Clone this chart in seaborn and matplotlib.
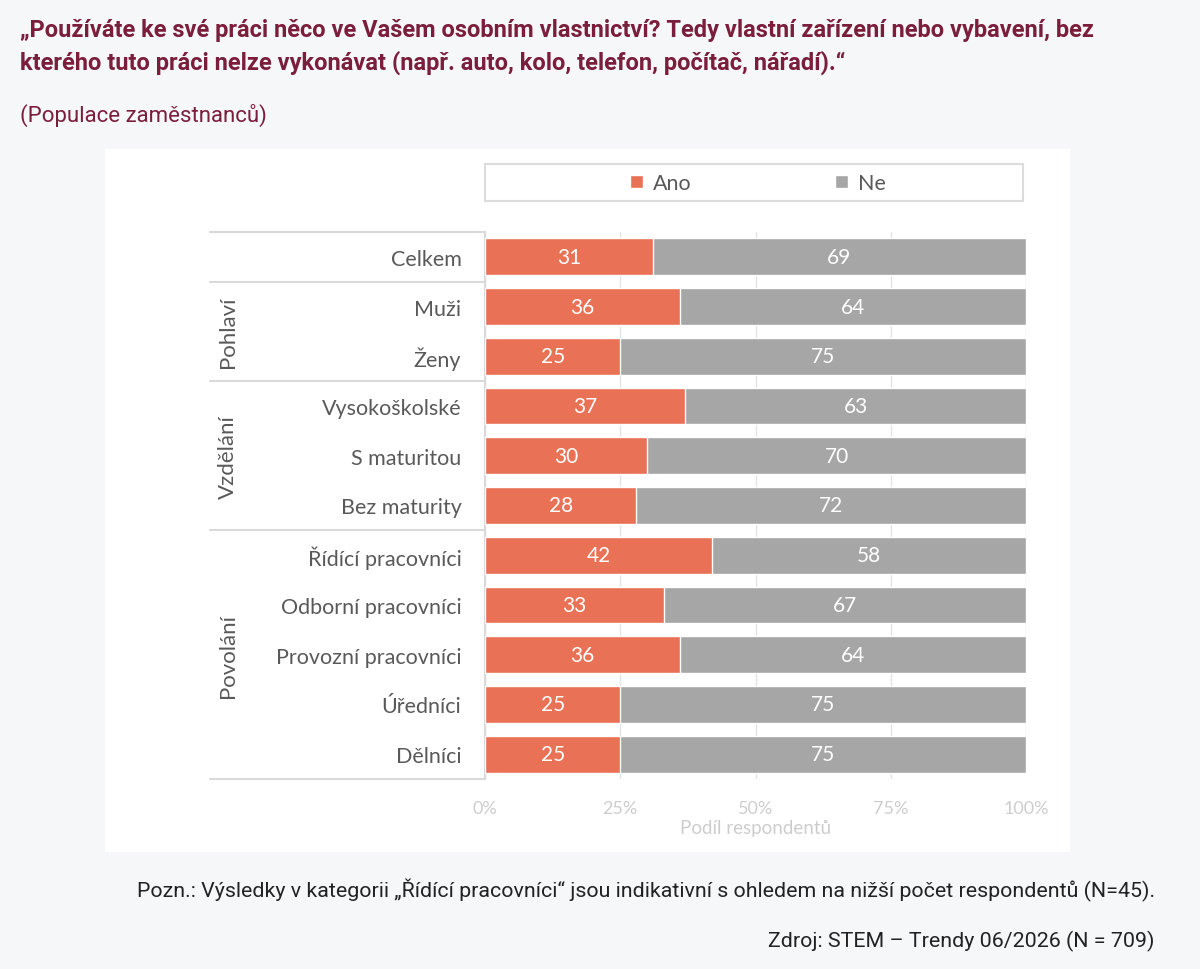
import matplotlib
matplotlib.use("Agg")
import matplotlib.pyplot as plt
import matplotlib.patches as mpatches
import matplotlib.transforms as mtransforms
import seaborn as sns
import pandas as pd

# ---------------- data ----------------
categories = ["Celkem", "Muži", "Ženy", "Vysokoškolské", "S maturitou", "Bez maturity",
              "Řídící pracovníci", "Odborní pracovníci", "Provozní pracovníci", "Úředníci", "Dělníci"]
ano = [31, 36, 25, 37, 30, 28, 42, 33, 36, 25, 25]
ne = [69, 64, 75, 63, 70, 72, 58, 67, 64, 75, 75]
series_names = ["Ano", "Ne"]
groups = ["Pohlaví", "Vzdělání", "Povolání"]
group_rows = [(1, 2), (3, 5), (6, 10)]
x_ticks = [0, 25, 50, 75, 100]
x_ticklabels = ["0%", "25%", "50%", "75%", "100%"]
x_label = "Podíl respondentů"
title = ("„Používáte ke své práci něco ve Vašem osobním vlastnictví? Tedy vlastní zařízení nebo vybavení, bez\n"
         "kterého tuto práci nelze vykonávat (např. auto, kolo, telefon, počítač, nářadí).“")
subtitle = "(Populace zaměstnanců)"
note = "Pozn.: Výsledky v kategorii „Řídící pracovníci“ jsou indikativní s ohledem na nižší počet respondentů (N=45)."
source = "Zdroj: STEM – Trendy 06/2026 (N = 709)"

# ---------------- style ----------------
C_ANO = "#E97155"
C_NE = "#A6A6A6"
PAGE_BG = "#F6F7F9"
MAROON = "#7B1E3C"
LINE = "#D9D9D9"
CHART_FONT = ["Lato", "DejaVu Sans"]
PAGE_FONT = ["Roboto", "DejaVu Sans"]

sns.set_theme(style="white")
plt.rcParams["font.family"] = CHART_FONT

df = pd.DataFrame({"cat": categories, "Ano": ano, "Ne": ne})
df["total"] = df["Ano"] + df["Ne"]

fig = plt.figure(figsize=(12, 9.7), dpi=100)
fig.patch.set_facecolor(PAGE_BG)

# white chart panel
fig.patches.append(mpatches.Rectangle((105 / 1200, 1 - 853 / 970), 965 / 1200, 703 / 970,
                                      transform=fig.transFigure, facecolor="white",
                                      edgecolor="none", zorder=-5))

ax = fig.add_axes([485 / 1200, 1 - 780 / 970, 541 / 1200, 547 / 970])
ax.set_facecolor("white")
ax.set_zorder(2)

sns.barplot(data=df, x="total", y="cat", color=C_NE, saturation=1, width=0.74,
            edgecolor="white", linewidth=1, orient="h", ax=ax, zorder=3)
sns.barplot(data=df, x="Ano", y="cat", color=C_ANO, saturation=1, width=0.74,
            edgecolor="white", linewidth=1, orient="h", ax=ax, zorder=4)

# value labels
for i, (a, n) in enumerate(zip(ano, ne)):
    ax.text(a / 2, i, f"{a}", ha="center", va="center", color="white", fontsize=15, zorder=5)
    ax.text(a + n / 2, i, f"{n}", ha="center", va="center", color="white", fontsize=15, zorder=5)

ax.set_xlim(0, 100)
ax.set_ylim(len(categories) - 0.5, -0.5)
ax.set_xticks(x_ticks)
ax.set_xticklabels(x_ticklabels)
ax.xaxis.grid(True, color="#E4E4E4", linewidth=1, zorder=0)
ax.set_axisbelow(True)
ax.tick_params(axis="x", length=0, pad=15, labelsize=13, labelcolor="#CDCDCD")
ax.tick_params(axis="y", length=0, pad=17, labelsize=15.5, labelcolor="#595959")
ax.set_xlabel(x_label, fontsize=13.5, color="#CDCDCD", labelpad=2)
ax.set_ylabel("")
for s in ["top", "right", "bottom"]:
    ax.spines[s].set_visible(False)
ax.spines["left"].set_color(LINE)
ax.spines["left"].set_linewidth(1.5)

# table lines on the left
trans = mtransforms.blended_transform_factory(ax.transAxes, ax.transData)
x_left = (210 - 485) / 541
for yb in [-0.5, 0.5, 2.5, 5.5, 10.5]:
    ax.plot([x_left, 0], [yb, yb], transform=trans, color=LINE, linewidth=1.5,
            clip_on=False, zorder=1)

# group labels
x_grp = (228 - 485) / 541
for g, (r0, r1) in zip(groups, group_rows):
    ax.text(x_grp, (r0 + r1) / 2, g, transform=trans, rotation=90, ha="center", va="center",
            fontsize=16, color="#595959")

# legend
fig.patches.append(mpatches.Rectangle((485 / 1200, 1 - 202 / 970), 538 / 1200, 37 / 970,
                                      transform=fig.transFigure, facecolor="white",
                                      edgecolor="#DCDCDC", linewidth=1.5, zorder=1))
handles = [mpatches.Patch(facecolor=C_ANO, label=series_names[0]),
           mpatches.Patch(facecolor=C_NE, label=series_names[1])]
fig.legend(handles=handles, loc="center", bbox_to_anchor=(758 / 1200, 1 - 184 / 970),
           ncol=2, frameon=False, fontsize=15.5, handlelength=0.6, handleheight=0.6,
           handletextpad=0.45, columnspacing=6.7, labelcolor="#595959")

# titles and notes
fig.text(20 / 1200, 1 - 19 / 970, title, ha="left", va="top", fontsize=17, fontweight="bold",
         color=MAROON, family=PAGE_FONT, linespacing=1.45)
fig.text(20 / 1200, 1 - 115 / 970, subtitle, ha="left", va="center", fontsize=16,
         color=MAROON, family=PAGE_FONT)
fig.text(1155 / 1200, 1 - 890 / 970, note, ha="right", va="center", fontsize=15.4,
         color="#222222", family=PAGE_FONT)
fig.text(1155 / 1200, 1 - 941 / 970, source, ha="right", va="center", fontsize=15.4,
         color="#222222", family=PAGE_FONT)

fig.savefig("out.png", dpi=100, facecolor=fig.get_facecolor())
